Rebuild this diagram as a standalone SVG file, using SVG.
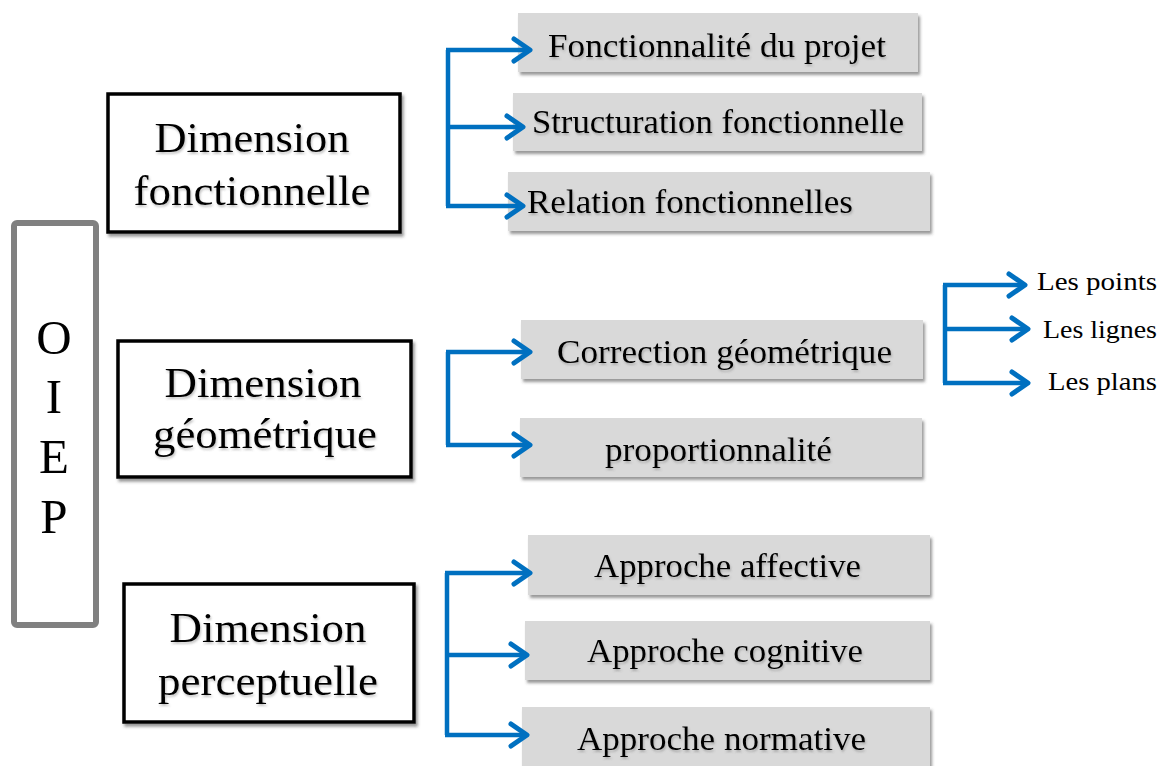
<svg xmlns="http://www.w3.org/2000/svg" width="1167" height="766" viewBox="0 0 1167 766">
<defs>
<filter id="sh" x="-5%" y="-10%" width="115%" height="130%">
<feDropShadow dx="2" dy="3" stdDeviation="1.5" flood-color="#444" flood-opacity="0.55"/>
</filter>
<filter id="tsh" x="-5%" y="-20%" width="110%" height="150%">
<feDropShadow dx="1" dy="2" stdDeviation="1.2" flood-color="#555" flood-opacity="0.35"/>
</filter>
<marker id="ah" viewBox="0 0 24 28" refX="20" refY="14" markerWidth="24" markerHeight="28" markerUnits="userSpaceOnUse" orient="auto" overflow="visible">
<polyline points="4,3 20,14 4,25" fill="none" stroke="#0070C0" stroke-width="5" stroke-linecap="round" stroke-linejoin="round"/>
</marker>
</defs>
<style>
text{font-family:"Liberation Serif","Times New Roman",serif;fill:#000}
.dim{font-size:42px;text-anchor:middle;filter:url(#tsh)}
.gt{font-size:33px;filter:url(#tsh)}
.sm{font-size:26px}
.oiep{font-size:49px;text-anchor:middle}
.bb{fill:#fff;stroke:#000;stroke-width:3.5;filter:url(#sh)}
.gb{fill:#d9d9d9;stroke:none;filter:url(#sh)}
.cn{fill:none;stroke:#0070C0;stroke-width:4.5;stroke-linejoin:miter}
.ar{marker-end:url(#ah)}
</style>
<rect width="1167" height="766" fill="#fff"/>

<g id="oiep">
<rect x="14" y="223" width="82" height="402" rx="3" fill="#fff" stroke="#808080" stroke-width="6"/>
<text class="oiep" x="54" y="354">O</text>
<text class="oiep" x="54" y="413">I</text>
<text class="oiep" x="54" y="473">E</text>
<text class="oiep" x="54" y="533">P</text>
</g>

<g id="dim-fonctionnelle">
<rect class="bb" x="108" y="94" width="292" height="138"/>
<text class="dim" x="252" y="152" textLength="195" lengthAdjust="spacingAndGlyphs">Dimension</text>
<text class="dim" x="252" y="205" textLength="237" lengthAdjust="spacingAndGlyphs">fonctionnelle</text>
</g>

<g id="dim-geometrique">
<rect class="bb" x="118" y="341" width="293" height="136"/>
<text class="dim" x="263" y="397" textLength="197" lengthAdjust="spacingAndGlyphs">Dimension</text>
<text class="dim" x="265" y="448" textLength="224" lengthAdjust="spacingAndGlyphs">géométrique</text>
</g>

<g id="dim-perceptuelle">
<rect class="bb" x="124" y="584" width="290" height="138"/>
<text class="dim" x="268" y="642" textLength="197" lengthAdjust="spacingAndGlyphs">Dimension</text>
<text class="dim" x="268" y="695" textLength="220" lengthAdjust="spacingAndGlyphs">perceptuelle</text>
</g>

<g id="fonctionnalite">
<rect class="gb" x="518" y="13" width="400" height="59"/>
<text class="gt" x="548" y="57" textLength="338" lengthAdjust="spacingAndGlyphs">Fonctionnalité du projet</text>
</g>
<g id="structuration">
<rect class="gb" x="513" y="93" width="409" height="58"/>
<text class="gt" x="532" y="133" textLength="372" lengthAdjust="spacingAndGlyphs">Structuration fonctionnelle</text>
</g>
<g id="relation">
<rect class="gb" x="508" y="172" width="422" height="59"/>
<text class="gt" x="527" y="213" textLength="326" lengthAdjust="spacingAndGlyphs">Relation fonctionnelles</text>
</g>

<g id="correction">
<rect class="gb" x="521" y="320" width="402" height="59"/>
<text class="gt" x="557" y="363" textLength="335" lengthAdjust="spacingAndGlyphs">Correction géométrique</text>
</g>
<g id="proportionnalite">
<rect class="gb" x="520" y="418" width="402" height="59"/>
<text class="gt" x="605" y="461" textLength="227" lengthAdjust="spacingAndGlyphs">proportionnalité</text>
</g>

<g id="affective">
<rect class="gb" x="528" y="535" width="402" height="60"/>
<text class="gt" x="594" y="577" textLength="267" lengthAdjust="spacingAndGlyphs">Approche affective</text>
</g>
<g id="cognitive">
<rect class="gb" x="525" y="621" width="405" height="59"/>
<text class="gt" x="587" y="662" textLength="276" lengthAdjust="spacingAndGlyphs">Approche cognitive</text>
</g>
<g id="normative">
<rect class="gb" x="522" y="707" width="408" height="64"/>
<text class="gt" x="577" y="750" textLength="289" lengthAdjust="spacingAndGlyphs">Approche normative</text>
</g>

<g id="les-points"><text class="sm" x="1037" y="290" textLength="120" lengthAdjust="spacingAndGlyphs">Les points</text></g>
<g id="les-lignes"><text class="sm" x="1043" y="338" textLength="114" lengthAdjust="spacingAndGlyphs">Les lignes</text></g>
<g id="les-plans"><text class="sm" x="1048" y="390" textLength="109" lengthAdjust="spacingAndGlyphs">Les plans</text></g>

<g id="connectors">
<path class="cn" d="M448,50 V206"/>
<path class="cn ar" d="M446,50 H530"/>
<path class="cn ar" d="M448,127 H523"/>
<path class="cn ar" d="M446,206 H523"/>

<path class="cn" d="M448,352 V445"/>
<path class="cn ar" d="M446,352 H530"/>
<path class="cn ar" d="M446,445 H530"/>

<path class="cn" d="M447,573 V735"/>
<path class="cn ar" d="M445,573 H530"/>
<path class="cn ar" d="M447,655 H527"/>
<path class="cn ar" d="M445,735 H527"/>

<path class="cn" d="M945,285 V383"/>
<path class="cn ar" d="M943,285 H1025"/>
<path class="cn ar" d="M947,329 H1028"/>
<path class="cn ar" d="M943,383 H1028"/>
</g>
</svg>
